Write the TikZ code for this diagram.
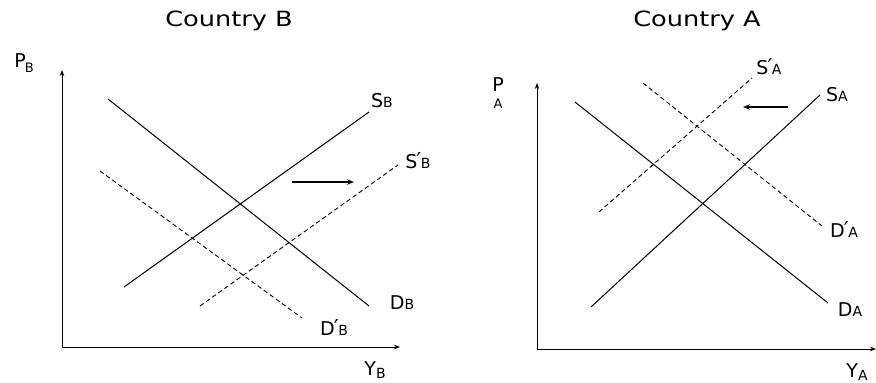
\documentclass[tikz,border=0pt]{standalone}
\usepackage{fontspec}
\setmainfont{DejaVu Sans}
\usetikzlibrary{arrows.meta}
\tikzset{
  axisline/.style={line width=1pt,-{Stealth[length=6pt,width=4.5pt]}},
  curve/.style={line width=1pt},
  dcurve/.style={line width=0.9pt,dash pattern=on 4.5pt off 3pt},
  shiftarrow/.style={line width=1.4pt,-{Stealth[length=7pt,width=5.5pt]}},
  title/.style={font=\fontsize{21}{24}\selectfont},
  lbl/.style={font=\fontsize{19}{21}\selectfont,inner sep=0pt},
}
\newcommand{\sm}[1]{{\fontsize{14}{16}\selectfont #1}}
\newcommand{\xs}[1]{{\fontsize{13}{15}\selectfont #1}}
\newcommand{\pr}{\kern-1pt\raisebox{0pt}{\fontsize{22}{24}\selectfont ′}\kern-0.5pt}
\begin{document}
\begin{tikzpicture}[x=1pt,y=-1pt]
\useasboundingbox (0,0) rectangle (876,383);
% ---------- Country B ----------
\node[title] (tB) at (229,21) {\scalebox{1.22}[1]{Country B}};
\coordinate (oB) at (62,347);
\coordinate (yB) at (62,70);
\coordinate (xB) at (400,347);
\draw[axisline] (oB) -- (yB);
\draw[axisline] (oB) -- (xB);
\node[lbl] (PB) at (24,63) {P\kern-1pt\raisebox{-5pt}{\xs{B}}};
\node[lbl] (YB) at (375,370) {Y\raisebox{-3pt}{\sm{B}}};
\coordinate (DB1) at (108,99);  \coordinate (DB2) at (369,306);
\coordinate (SB1) at (124,287); \coordinate (SB2) at (369,112);
\coordinate (SpB1) at (200,306); \coordinate (SpB2) at (398,165);
\coordinate (DpB1) at (100,171); \coordinate (DpB2) at (302,318);
\draw[curve] (DB1) -- (DB2);
\draw[curve] (SB1) -- (SB2);
\draw[dcurve] (SpB1) -- (SpB2);
\draw[dcurve] (DpB1) -- (DpB2);
\node[lbl] (lSB) at (382,101) {S\sm{B}};
\node[lbl,anchor=base] (lSpB) at (418,168) {S\pr\sm{B}};
\node[lbl] (lDB) at (402,303) {D\sm{B}};
\node[lbl,anchor=base] (lDpB) at (334,335) {D\pr\sm{B}};
\coordinate (aB1) at (292,182); \coordinate (aB2) at (354,182);
\draw[shiftarrow] (aB1) -- (aB2);
% ---------- Country A ----------
\node[title] (tA) at (697,21) {\scalebox{1.22}[1]{Country A}};
\coordinate (oA) at (537,349);
\coordinate (yA) at (537,83);
\coordinate (xA) at (876,349);
\draw[axisline] (oA) -- (yA);
\draw[axisline] (oA) -- (xA);
\node[lbl] (PA) at (498,85) {P};
\node[lbl] (PAs) at (498,104) {\xs{A}};
\node[lbl] (YA) at (857,372) {Y\raisebox{-3pt}{\sm{A}}};
\coordinate (DA1) at (575,102); \coordinate (DA2) at (828,303);
\coordinate (SA1) at (591,307); \coordinate (SA2) at (820,95);
\coordinate (SpA1) at (599,212); \coordinate (SpA2) at (752,78);
\coordinate (DpA1) at (643,83); \coordinate (DpA2) at (822,226);
\draw[curve] (DA1) -- (DA2);
\draw[curve] (SA1) -- (SA2);
\draw[dcurve] (SpA1) -- (SpA2);
\draw[dcurve] (DpA1) -- (DpA2);
\node[lbl] (lSA) at (837,95) {S\sm{A}};
\node[lbl,anchor=base] (lSpA) at (769,74) {S\pr\sm{A}};
\node[lbl] (lDA) at (850,310) {D\sm{A}};
\node[lbl,anchor=base] (lDpA) at (844,237) {D\pr\sm{A}};
\coordinate (aA1) at (788,107); \coordinate (aA2) at (743,107);
\draw[shiftarrow] (aA1) -- (aA2);
\end{tikzpicture}
\end{document}
